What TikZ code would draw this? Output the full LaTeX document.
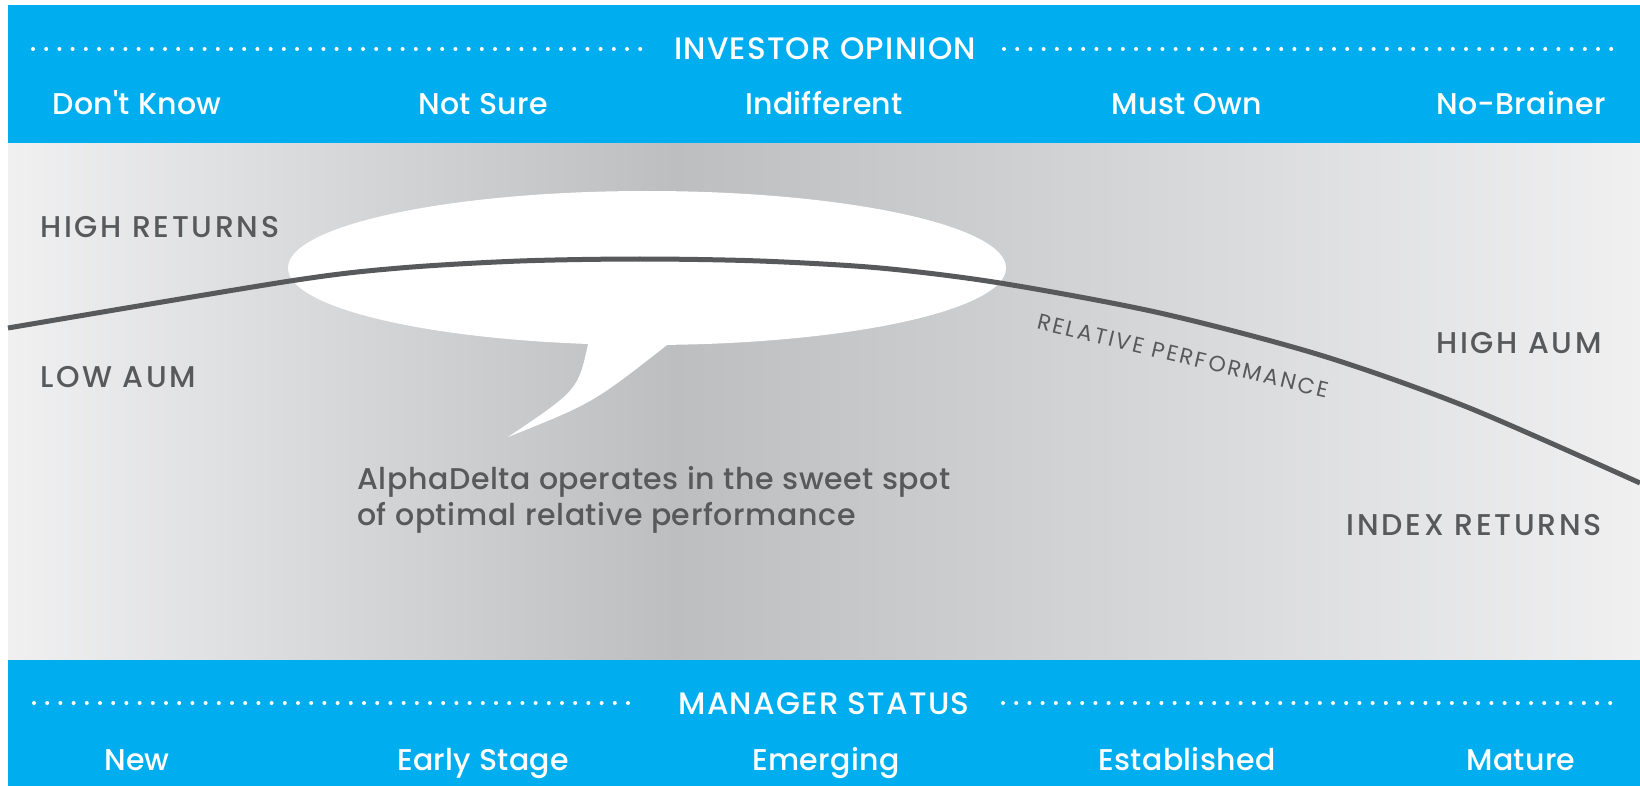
\documentclass[tikz,border=0pt]{standalone}
\usepackage{fontspec}
\setmainfont{Poppins}
\IfFontExistsTF{Poppins Medium}
  {\newfontfamily\medfont{Poppins Medium}}
  {\newfontfamily\medfont{Poppins}[UprightFont=*, BoldFont=*]\def\medfont{\normalfont\bfseries}}
\usetikzlibrary{positioning}
\definecolor{bandblue}{HTML}{00AEEF}
\definecolor{inkgrey}{HTML}{58595B}
\definecolor{shadelight}{HTML}{F0F0F1}
\definecolor{shadedark}{HTML}{BCBEC0}
\tikzset{
  bandtext/.style={text=white, inner sep=0pt, font=\fontsize{30}{30}\selectfont\medfont\addfontfeatures{LetterSpace=1}},
  headtext/.style={text=white, inner sep=0pt, font=\fontsize{31}{31}\selectfont\medfont\addfontfeatures{LetterSpace=4}},
  greytext/.style={text=inkgrey, inner sep=0pt, font=\fontsize{30}{30}\selectfont\medfont\addfontfeatures{LetterSpace=9}},
  calltext/.style={text=inkgrey, inner sep=0pt, font=\fontsize{30}{30}\selectfont\medfont\addfontfeatures{LetterSpace=2}},
  curvetext/.style={text=inkgrey, inner sep=0pt, font=\fontsize{22}{22}\selectfont\addfontfeatures{LetterSpace=11}},
  dotline/.style={white, line width=4pt, line cap=round, dash pattern=on 0pt off 13.2pt},
}
\begin{document}
\begin{tikzpicture}[x=1pt,y=-1pt,line join=round]
\useasboundingbox (0,0) rectangle (1640,786);
\fill[white] (0,0) rectangle (1640,786);
% bands
\fill[bandblue] (8,5) rectangle (1640,144);
\fill[bandblue] (8,659) rectangle (1640,786);
% grey field
\shade[left color=shadelight, right color=shadedark] (8,144) rectangle (675,659);
\shade[left color=shadedark, right color=shadelight] (675,144) rectangle (1640,659);

% top band
\node[headtext, anchor=base] (opinion) at (825,60) {INVESTOR OPINION};
\draw[dotline] (33,49) -- (645,49);
\draw[dotline] (1004,49) -- (1614,49);
\node[bandtext, anchor=base] (dontknow) at (137,115) {Don't Know};
\node[bandtext, anchor=base] (notsure) at (483,115) {Not Sure};
\node[bandtext, anchor=base] (indiff) at (824,115) {Indifferent};
\node[bandtext, anchor=base] (mustown) at (1187,115) {Must Own};
\node[bandtext, anchor=base] (nobrainer) at (1521,115) {No-Brainer};

% bottom band
\node[headtext, anchor=base] (status) at (824,714) {MANAGER STATUS};
\draw[dotline] (34,703) -- (641,703);
\draw[dotline] (1003,703) -- (1614,703);
\node[bandtext, anchor=base] (new) at (137,770) {New};
\node[bandtext, anchor=base] (early) at (483,770) {Early Stage};
\node[bandtext, anchor=base] (emerging) at (826,770) {Emerging};
\node[bandtext, anchor=base] (established) at (1187,770) {Established};
\node[bandtext, anchor=base] (mature) at (1521,770) {Mature};

% speech bubble
\fill[white] (647,268) ellipse [x radius=359, y radius=77];
\fill[white] (586,330) -- (588,344) .. controls (578,390) .. (508,437)
  .. controls (593,403) .. (667,345) -- (672,330) -- cycle;

% performance curve
\draw[inkgrey, line width=5pt, line cap=butt] plot[smooth, tension=0.5]
  coordinates {(8,328) (290,281) (400,268) (520,261) (640,259) (760,261)
  (880,268) (1000,283) (1160,313) (1320,355) (1467,407) (1640,483)};
\node[curvetext, rotate=-13.5] (relperf) at (1183,356) {RELATIVE PERFORMANCE};

% side labels
\node[greytext, anchor=base west] (highret) at (40,238) {HIGH RETURNS};
\node[greytext, anchor=base west] (lowaum) at (40,387) {LOW AUM};
\node[greytext, anchor=base east] (highaum) at (1602,353) {HIGH AUM};
\node[greytext, anchor=base east] (indexret) at (1602,535) {INDEX RETURNS};

% callout
\node[calltext, anchor=base west] (callA) at (357,489) {AlphaDelta operates in the sweet spot};
\node[calltext, anchor=base west] (callB) at (357,525) {of optimal relative performance};
\end{tikzpicture}
\end{document}
